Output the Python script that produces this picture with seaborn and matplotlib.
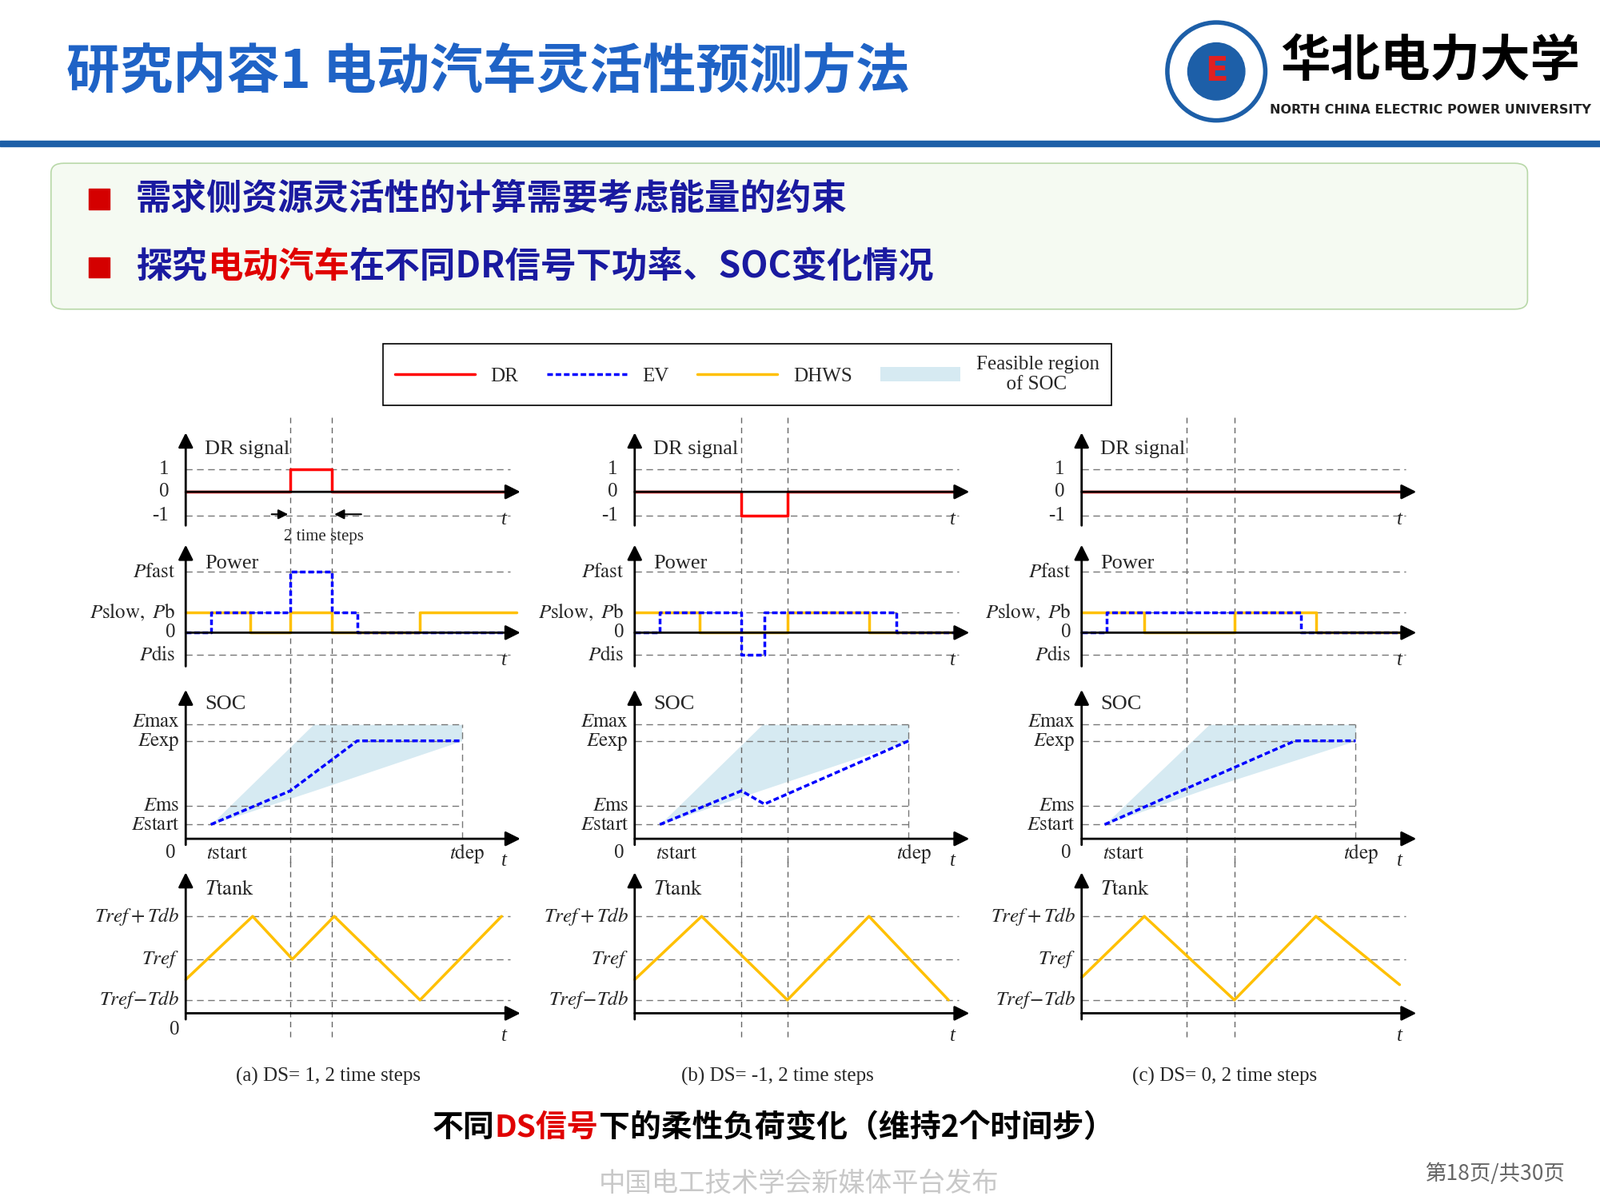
import matplotlib
matplotlib.use("Agg")
import matplotlib.pyplot as plt
import seaborn as sns
import pandas as pd
from matplotlib.patches import FancyBboxPatch, Ellipse, Rectangle, Patch
from matplotlib.lines import Line2D

# ---------------- data ----------------
panel_captions = ["(a) DS= 1, 2 time steps", "(b) DS= -1, 2 time steps", "(c) DS= 0, 2 time steps"]
dr_t = [[0, 5.0, 7.0, 15.6], [0, 5.1, 7.3, 15.6], [0, 15.6]]
dr_v = [[0, 1, 0, 0], [0, -1, 0, 0], [0, 0]]
ev_t = [[0, 1.2, 5.0, 7.0, 8.2, 15.5], [0, 1.2, 5.1, 6.2, 12.5, 15.5], [0, 1.2, 10.5, 15.5]]
ev_lvl = [[0, 1, 2, 1, 0, 0], [0, 1, -1, 1, 0, 0], [0, 1, 0, 0]]
dh_t = [[0, 3.1, 5.0, 7.0, 11.2, 15.8], [0, 3.1, 7.3, 11.2, 15.5], [0, 3.0, 7.3, 11.2, 15.5]]
dh_lvl = [[1, 0, 1, 0, 1, 1], [1, 0, 1, 0, 0], [1, 0, 1, 0, 0]]
soc_t = [[1.2, 5.0, 8.2, 13.2], [1.2, 5.1, 6.2, 13.1], [1.1, 10.2, 13.1]]
soc_v = [[14, 47, 96, 96], [14, 47, 34, 96], [14, 96, 96]]
reg_t = [[1.2, 6.1, 13.2], [1.2, 6.1, 13.1], [1.1, 6.1, 13.1]]
reg_up = [[14, 112, 112], [14, 112, 112], [14, 112, 112]]
reg_lo = [[14, 47, 96], [14, 48, 96], [14, 50, 96]]
tdep = [13.2, 13.1, 13.1]
tank_t = [[0, 3.2, 5.1, 7.1, 11.2, 15.1], [0, 3.2, 7.3, 11.2, 15.0], [0, 3.0, 7.3, 11.2, 15.2]]
tank_v = [[33, 95, 53, 95, 13, 95], [33, 95, 13, 95, 13], [35, 95, 13, 95, 28]]
dr_marks = [[5.0, 7.0], [5.1, 7.3], [5.0, 7.3]]

# ---------------- styles ----------------
W, H = 1568.0, 1176.0
PX = 20.5
col_x0 = [182, 622, 1060]
pw_level = {2: 60, 1: 20, 0: 0, -1: -22}
dr_level = {1: 22, 0: 0, -1: -23}
RED, BLUE, YEL = "#ff0000", "#0000ff", "#ffc000"
SERIF = "Liberation Serif"
CJK = ["Noto Sans CJK SC", "Noto Sans CJK JP", "DejaVu Sans"]
plt.rcParams["mathtext.fontset"] = "stix"
sns.set_style("white")

fig = plt.figure(figsize=(20.01, 15.01), dpi=100)
fx = lambda x: x / W
fy = lambda y: 1 - y / H
renderer = fig.canvas.get_renderer()

def seq_text(parts, x, y, ha="left", **kw):
    objs = []
    widths = []
    for s, c in parts:
        t = fig.text(0, 0, s, color=c, va="center", **kw)
        bb = t.get_window_extent(renderer)
        widths.append(bb.width / fig.bbox.width)
        objs.append(t)
    total = sum(widths)
    start = fx(x) - (total / 2 if ha == "center" else 0)
    for t, w in zip(objs, widths):
        t.set_position((start, fy(y)))
        start += w

# ---------------- header ----------------
fig.text(fx(65), fy(70), "研究内容1 电动汽车灵活性预测方法", fontsize=48, fontweight="bold",
         color="#1f63c6", family=CJK, va="center")
fig.add_artist(Rectangle((0, fy(143)), 1, 5 / H, transform=fig.transFigure, color="#1d5fa8"))
fig.add_artist(Ellipse((fx(1192), fy(70)), 96 / W, 96 / H, transform=fig.transFigure,
                       facecolor="white", edgecolor="#1d5fa8", lw=4))
fig.add_artist(Ellipse((fx(1192), fy(70)), 56 / W, 56 / H, transform=fig.transFigure,
                       facecolor="#1d5fa8", edgecolor="#1d5fa8"))
fig.text(fx(1192), fy(70), "E", fontsize=30, fontweight="bold", color="#e02020", ha="center", va="center")
fig.text(fx(1402), fy(60), "华北电力大学", fontsize=45, fontweight="bold", family=CJK,
         ha="center", va="center", color="black")
fig.text(fx(1402), fy(108), "NORTH CHINA ELECTRIC POWER UNIVERSITY", fontsize=11.5, fontweight="bold",
         ha="center", va="center", color="#222222")

fig.add_artist(FancyBboxPatch((fx(50), fy(303)), (1447) / W, (143) / H, transform=fig.transFigure,
                              boxstyle="round,pad=0,rounding_size=0.008",
                              facecolor="#f5faf2", edgecolor="#b8d8a8", lw=1.2))
for yb in (195, 262):
    fig.add_artist(Rectangle((fx(87), fy(yb + 10)), 20 / W, 20 / H, transform=fig.transFigure, color="#d40000"))
DB = "#1a1aa0"
seq_text([("需求侧资源灵活性的计算需要考虑能量的约束", DB)], 133, 195, fontsize=32, fontweight="bold", family=CJK)
seq_text([("探究", DB), ("电动汽车", "#e00000"), ("在不同DR信号下功率、SOC变化情况", DB)], 133, 262,
         fontsize=32, fontweight="bold", family=CJK)

# ---------------- legend ----------------
handles = [Line2D([], [], color=RED, lw=2.5), Line2D([], [], color=BLUE, lw=2.5, ls=(0, (2, 1))),
           Line2D([], [], color=YEL, lw=2.5), Patch(facecolor="#d6eaf2", edgecolor="none")]
leg = fig.legend(handles, ["DR", "EV", "DHWS", "Feasible region\n      of SOC"], ncol=4, loc="center",
                 bbox_to_anchor=(fx(732), fy(367)), prop={"family": SERIF, "size": 18},
                 handlelength=4, columnspacing=1.4, fancybox=False, edgecolor="black", framealpha=1,
                 borderpad=0.6)
leg.get_frame().set_linewidth(1.2)

# ---------------- panels ----------------
rows = {"dr": (482, -35, 60), "pw": (620, -35, 88), "soc": (822, -8, 148), "tank": (993, -8, 140)}

def make_ax(col, row):
    base, ylo, yhi = rows[row]
    x0 = col_x0[col]
    ax = fig.add_axes([fx(x0 - 15), fy(base - ylo), 350 / W, (yhi - ylo) / H])
    ax.set_xlim(-15 / PX, 335 / PX)
    ax.set_ylim(ylo, yhi)
    ax.axis("off")
    ax.annotate("", xy=(0, yhi - 2), xytext=(0, ylo + 2),
                arrowprops=dict(arrowstyle="-|>", lw=2, color="k", mutation_scale=28, shrinkA=0, shrinkB=0))
    ax.annotate("", xy=(16.0, 0), xytext=(0, 0),
                arrowprops=dict(arrowstyle="-|>", lw=2, color="k", mutation_scale=28, shrinkA=0, shrinkB=0))
    ax.text(15.2, ylo + (8 if row in ("dr", "pw") else -14), "t", fontsize=18, family=SERIF,
            style="italic", ha="center", va="center")
    for m in dr_marks[col]:
        ax.plot([m, m], [ylo - 15, yhi + 15], color="#666666", lw=1, ls=(0, (5, 4)), clip_on=False)
    return ax

def hline(ax, y, x1=15.5):
    ax.plot([0, x1], [y, y], color="#777777", lw=1, ls=(0, (6, 4)))

lab = dict(fontsize=18, ha="right", va="center")
for c in range(3):
    # DR
    ax = make_ax(c, "dr")
    for y in (22, -23):
        hline(ax, y)
    for s, y in (("1", 22), ("0", 0), ("-1", -23)):
        ax.text(-0.8, y, s, family=SERIF, **lab)
    ax.text(0.9, 42, "DR signal", fontsize=19, family=SERIF, va="center")
    d = pd.DataFrame({"t": dr_t[c], "v": [dr_level[v] for v in dr_v[c]]})
    sns.lineplot(data=d, x="t", y="v", ax=ax, color=RED, lw=2.5, drawstyle="steps-post",
                 estimator=None, sort=False, legend=False)
    if c == 0:
        ax.annotate("", xy=(5.0, -22), xytext=(4.0, -22),
                    arrowprops=dict(arrowstyle="-|>", color="k", lw=1.5, mutation_scale=18))
        ax.annotate("", xy=(7.0, -22), xytext=(8.5, -22),
                    arrowprops=dict(arrowstyle="-|>", color="k", lw=1.5, mutation_scale=18))
        ax.text(6.6, -44, "2 time steps", fontsize=15, family=SERIF, ha="center", va="center")
    # Power
    ax = make_ax(c, "pw")
    for y in (60, 20, -22):
        hline(ax, y)
    ax.text(-0.5, 60, r"$P\mathrm{fast}$", **lab)
    ax.text(-0.5, 20, r"$P\mathrm{slow},\ P\mathrm{b}$", **lab)
    ax.text(-0.5, 0, "0", family=SERIF, **lab)
    ax.text(-0.5, -22, r"$P\mathrm{dis}$", **lab)
    ax.text(0.9, 68, "Power", fontsize=19, family=SERIF, va="center")
    d = pd.DataFrame({"t": dh_t[c], "v": [pw_level[v] for v in dh_lvl[c]]})
    sns.lineplot(data=d, x="t", y="v", ax=ax, color=YEL, lw=2.5, drawstyle="steps-post",
                 estimator=None, sort=False, legend=False)
    d = pd.DataFrame({"t": ev_t[c], "v": [pw_level[v] for v in ev_lvl[c]]})
    sns.lineplot(data=d, x="t", y="v", ax=ax, color=BLUE, lw=2.5, drawstyle="steps-post",
                 estimator=None, sort=False, legend=False, dashes=False, linestyle=(0, (2, 1)))
    # SOC
    ax = make_ax(c, "soc")
    for y in (112, 96, 32, 14):
        hline(ax, y, tdep[c])
    ax.plot([tdep[c], tdep[c]], [0, 112], color="#777777", lw=1, ls=(0, (6, 4)))
    for s, y in ((r"$E\mathrm{max}$", 115), (r"$E\mathrm{exp}$", 95), (r"$E\mathrm{ms}$", 33), (r"$E\mathrm{start}$", 14)):
        ax.text(-0.3, y, s, **lab)
    ax.text(-0.5, -14, "0", family=SERIF, **lab)
    ax.text(0.9, 132, "SOC", fontsize=19, family=SERIF, va="center")
    ax.text(1.0, -14, r"$t\mathrm{start}$", fontsize=18, va="center")
    ax.text(tdep[c] - 0.6, -14, r"$t\mathrm{dep}$", fontsize=18, va="center")
    ax.fill_between(reg_t[c], reg_lo[c], reg_up[c], color="#d6eaf2", lw=0)
    d = pd.DataFrame({"t": soc_t[c], "v": soc_v[c]})
    sns.lineplot(data=d, x="t", y="v", ax=ax, color=BLUE, lw=2.5, estimator=None, sort=False,
                 legend=False, linestyle=(0, (2, 1)))
    # Ttank
    ax = make_ax(c, "tank")
    for y in (95, 53, 13):
        hline(ax, y)
    ax.text(-0.3, 95, r"$Tref+Tdb$", **lab)
    ax.text(-0.3, 53, r"$Tref$", **lab)
    ax.text(-0.3, 13, r"$Tref\!-\!Tdb$", **lab)
    if c == 0:
        ax.text(-0.3, -16, "0", family=SERIF, **lab)
    ax.text(0.9, 122, r"$T\mathrm{tank}$", fontsize=19, va="center")
    d = pd.DataFrame({"t": tank_t[c], "v": tank_v[c]})
    sns.lineplot(data=d, x="t", y="v", ax=ax, color=YEL, lw=2.5, estimator=None, sort=False, legend=False)
    fig.text(fx(col_x0[c] + 140), fy(1055), panel_captions[c], fontsize=18, family=SERIF,
             ha="center", va="center")

# ---------------- captions ----------------
seq_text([("不同", "black"), ("DS信号", "#e00000"), ("下的柔性负荷变化（维持2个时间步）", "black")],
         758, 1105, ha="center", fontsize=28, fontweight="bold", family=CJK)
fig.text(fx(783), fy(1160), "中国电工技术学会新媒体平台发布", fontsize=24, family=CJK, color="#c8c8c8",
         ha="center", va="center")
fig.text(fx(1465), fy(1150), "第18页/共30页", fontsize=19, family=CJK, color="#666666",
         ha="center", va="center")

fig.savefig("out.png", dpi=100)
